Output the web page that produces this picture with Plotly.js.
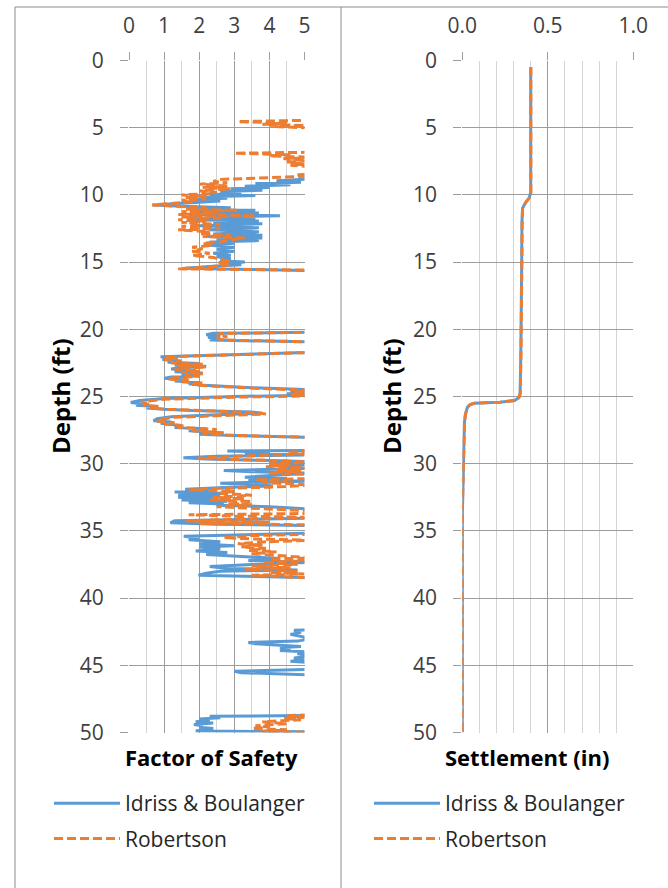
<!DOCTYPE html>
<html>
<head>
<meta charset="utf-8">
<script src="https://cdn.plot.ly/plotly-3.0.1.min.js"></script>
<style>html,body{margin:0;padding:0;background:#fff;}#chart{width:668px;height:888px;}</style>
</head>
<body>
<div id="chart"></div>
<script>
// ---- data (depth in ft, value) ----
const seriesNames = ["Idriss & Boulanger", "Robertson"];
const fosTickLabels = [0, 1, 2, 3, 4, 5];
const settleTickLabels = ["0.0", "0.5", "1.0"];
const depthTicks = [0, 5, 10, 15, 20, 25, 30, 35, 40, 45, 50];

// Factor of safety, Idriss & Boulanger  [depth, FoS]  (values > 5 are off the chart)
const ibFos = [
 [0.5,6],[8.7,6],[8.8,5.2],[8.95,4.2],[9.05,4.9],[9.15,3.6],[9.25,4.6],[9.35,3.3],[9.45,4.0],[9.55,2.9],
 [9.65,3.8],[9.75,2.6],[9.85,3.2],[9.95,2.3],[10.05,3.6],[10.15,2.0],[10.25,2.8],[10.35,1.7],[10.45,2.6],[10.55,2.0],
 [10.65,1.3],[10.75,0.68],[10.85,1.5],[10.95,2.9],[11.05,1.8],[11.15,3.6],[11.25,2.0],[11.35,3.7],[11.45,1.7],[11.55,4.3],
 [11.65,2.2],[11.75,3.6],[11.85,1.8],[11.95,3.7],[12.05,2.4],[12.15,3.8],[12.3,2.0],[12.45,3.7],[12.6,2.3],[12.75,3.7],
 [12.9,2.4],[13.0,3.8],[13.1,2.2],[13.2,3.8],[13.3,2.5],[13.4,3.7],[13.5,2.3],[13.6,3.0],[13.75,2.3],[13.9,3.0],
 [14.05,2.5],[14.2,3.0],[14.35,2.4],[14.5,2.9],[14.6,2.5],[14.75,2.9],[14.9,2.6],[15.0,3.3],[15.1,2.7],[15.2,3.2],
 [15.3,2.4],[15.45,1.6],[15.55,3.5],[15.65,5.5],[16.0,6],
 [20.2,6],[20.3,2.4],[20.4,2.2],[20.5,2.6],[20.6,2.25],[20.7,2.5],[20.8,2.3],[20.95,5.5],[21.0,6],[21.7,6],
 [21.75,4.8],[22.05,0.9],[22.15,1.3],[22.25,0.95],[22.35,1.4],[22.45,1.1],[22.55,2.0],[22.65,1.3],[22.75,2.2],[22.85,1.5],
 [22.95,1.2],[23.05,1.9],[23.15,1.3],[23.25,2.1],[23.35,1.5],[23.45,2.0],[23.55,1.2],[23.65,1.0],[23.75,1.6],[23.85,1.3],
 [23.95,2.0],[24.05,1.7],[24.15,2.0],[24.35,3.5],[24.5,5.2],[24.6,4.6],[24.7,5.1],[24.8,4.5],[24.9,5.2],[25.0,3.0],
 [25.15,1.0],[25.3,0.3],[25.45,0.05],[25.55,0.4],[25.65,0.2],[25.75,0.8],[25.85,0.5],[25.95,1.0],[26.05,1.8],[26.15,3.5],
 [26.25,3.8],[26.35,2.5],[26.5,1.2],[26.65,0.8],[26.8,0.7],[26.9,1.2],[27.0,0.9],[27.15,1.5],[27.3,1.3],[27.4,2.2],
 [27.55,1.7],[27.7,2.6],[27.8,2.0],[27.9,3.0],[28.0,5.5],[28.1,6],
 [29.0,6],[29.05,2.8],[29.15,4.0],[29.25,3.3],[29.35,5.0],[29.45,2.5],[29.55,1.55],[29.65,2.2],[29.75,3.8],[29.85,5.2],
 [29.95,4.0],[30.05,5.2],[30.2,4.4],[30.35,5.1],[30.5,2.7],[30.6,3.5],[30.7,5.2],[30.85,4.2],[31.0,3.3],[31.1,4.5],
 [31.2,3.4],[31.3,5.1],[31.45,2.6],[31.55,3.6],[31.65,4.1],[31.75,2.9],[31.9,1.6],[32.0,2.4],[32.1,1.3],[32.2,2.8],
 [32.3,1.4],[32.4,2.6],[32.5,1.4],[32.6,2.4],[32.7,1.5],[32.8,2.8],[32.9,1.7],[33.0,2.7],[33.1,2.5],[33.2,4.0],
 [33.3,5.2],[33.5,6],[34.0,6],[34.1,4.0],[34.25,1.3],[34.4,1.18],[34.5,2.5],[34.6,5.2],[34.8,6],[35.1,6],
 [35.25,3.5],[35.4,1.56],[35.55,2.0],[35.65,1.7],[35.8,2.6],[35.95,2.0],[36.1,3.0],[36.2,2.0],[36.35,2.6],[36.5,1.9],
 [36.6,2.8],[36.75,2.2],[36.9,3.2],[37.05,4.3],[37.2,3.4],[37.35,5.1],[37.5,3.5],[37.65,2.3],[37.8,2.8],[37.9,4.8],
 [38.0,2.6],[38.15,2.2],[38.3,1.98],[38.4,3.5],[38.5,5.5],[38.6,6],
 [42.3,6],[42.4,4.7],[42.55,4.9],[42.7,4.6],[42.85,5.0],[43.0,5.2],[43.2,4.8],[43.3,3.4],[43.4,3.6],[43.5,4.5],
 [43.6,4.9],[43.7,4.3],[43.8,4.6],[43.9,4.3],[44.0,5.0],[44.15,4.8],[44.3,5.2],[44.45,4.7],[44.6,5.0],[44.7,4.6],
 [44.8,5.2],[45.3,5.2],[45.45,3.0],[45.55,3.2],[45.65,5.5],[45.8,6],
 [48.7,6],[48.8,2.3],[48.9,2.6],[49.0,2.0],[49.1,2.3],[49.2,1.9],[49.3,2.4],[49.4,1.85],[49.5,2.1],[49.6,2.0],
 [49.7,2.4],[49.8,2.0],[49.88,1.9],[49.95,5.2],[50.0,6]
];

// Factor of safety, Robertson  [depth, FoS]
const robFos = [
 [0.5,6],[4.4,6],[4.55,3.1],[4.65,4.5],[4.75,3.8],[4.85,5.2],[4.9,4.0],[5.0,5.2],[5.1,6],
 [6.8,6],[6.9,3.0],[7.0,4.6],[7.1,4.0],[7.2,5.2],[7.3,4.4],[7.45,5.1],[7.55,4.5],[7.7,5.0],[7.8,4.6],[7.9,5.2],[8.0,6],
 [8.4,6],[8.5,4.8],[8.6,5.2],[8.75,3.5],[8.85,2.6],[9.0,2.4],[9.1,2.8],[9.2,2.0],[9.35,2.8],[9.45,2.1],
 [9.55,2.9],[9.7,2.0],[9.8,2.5],[9.9,2.3],[10.0,1.5],[10.1,2.2],[10.2,1.6],[10.3,2.2],[10.4,1.5],[10.5,1.8],
 [10.65,1.1],[10.75,0.66],[10.85,1.4],[10.95,2.2],[11.05,1.6],[11.15,3.1],[11.25,1.5],[11.35,2.5],[11.45,1.4],[11.55,3.6],
 [11.65,1.5],[11.75,2.7],[11.85,1.4],[11.95,2.2],[12.05,1.5],[12.2,2.6],[12.35,1.5],[12.5,2.6],[12.6,1.4],[12.75,2.3],
 [12.9,2.0],[13.0,2.9],[13.1,2.1],[13.2,3.3],[13.35,2.9],[13.5,2.6],[13.6,2.1],[13.75,2.4],[13.9,1.8],[14.0,2.1],
 [14.2,1.8],[14.35,2.3],[14.5,1.8],[14.65,2.4],[14.8,2.6],[14.95,2.9],[15.05,2.5],[15.2,2.9],[15.35,2.3],[15.5,1.4],
 [15.6,5.3],[15.7,6],
 [20.2,6],[20.3,2.7],[20.4,2.5],[20.55,2.8],[20.65,2.5],[20.8,2.7],[20.95,5.5],[21.0,6],[21.7,6],[21.75,4.8],
 [22.05,1.0],[22.15,1.4],[22.25,1.0],[22.35,1.5],[22.5,1.2],[22.6,2.1],[22.7,1.4],[22.8,2.2],[22.9,1.6],[23.0,1.3],
 [23.1,2.0],[23.2,1.5],[23.3,2.1],[23.4,1.6],[23.5,2.0],[23.6,1.3],[23.7,1.1],[23.8,1.7],[23.9,1.5],[24.0,2.1],
 [24.1,1.8],[24.2,2.2],[24.4,3.7],[24.55,5.2],[24.65,4.7],[24.75,5.1],[24.85,4.6],[24.95,5.2],[25.05,3.0],[25.2,1.0],
 [25.35,0.5],[25.45,0.35],[25.55,0.6],[25.65,0.4],[25.75,0.9],[25.85,0.6],[25.95,1.1],[26.05,2.0],[26.2,3.6],[26.3,3.9],
 [26.4,2.6],[26.55,1.3],[26.7,0.9],[26.85,0.8],[26.95,1.3],[27.05,1.0],[27.2,1.6],[27.3,1.4],[27.45,2.5],[27.55,1.8],
 [27.7,2.7],[27.8,2.1],[27.9,3.1],[28.0,5.5],[28.1,6],
 [29.0,6],[29.15,4.5],[29.25,5.2],[29.35,4.0],[29.45,3.0],[29.6,1.95],[29.7,3.5],[29.8,4.5],[29.9,5.2],[30.0,4.0],
 [30.1,4.6],[30.2,3.9],[30.3,5.1],[30.45,4.2],[30.55,4.9],[30.7,4.0],[30.8,5.2],[31.0,6],[31.1,5.2],[31.2,3.6],
 [31.3,4.5],[31.4,3.8],[31.5,4.6],[31.6,5.2],[31.75,4.0],[31.85,2.2],[31.95,1.7],[32.05,3.0],[32.2,2.6],[32.35,3.5],
 [32.5,2.4],[32.6,3.3],[32.7,2.3],[32.8,3.5],[32.95,2.8],[33.05,3.5],[33.2,2.5],[33.3,3.5],[33.45,5.2],[33.6,6],
 [33.7,5.3],[33.8,1.7],[33.9,3.0],[34.0,5.2],[34.1,3.5],[34.25,1.6],[34.35,4.0],[34.45,2.0],[34.55,5.2],[34.7,6],
 [35.2,6],[35.35,3.5],[35.5,2.7],[35.6,3.5],[35.7,5.2],[35.8,4.0],[35.95,3.1],[36.05,3.8],[36.2,3.2],[36.3,3.9],
 [36.45,3.4],[36.55,4.2],[36.7,3.5],[36.85,4.2],[37.0,5.2],[37.1,4.0],[37.2,5.2],[37.35,3.8],[37.5,4.8],[37.6,3.5],
 [37.75,4.6],[37.85,3.3],[38.0,4.8],[38.1,4.0],[38.2,5.0],[38.3,3.5],[38.4,4.6],[38.5,5.5],[38.6,6],
 [48.6,6],[48.75,4.5],[48.85,5.2],[48.95,4.4],[49.05,4.9],[49.2,3.8],[49.35,4.5],[49.5,3.6],[49.6,4.0],[49.7,3.5],
 [49.8,4.5],[49.9,3.8],[50.0,5.2]
];

// Cumulative settlement (in)  [depth, settlement]
const ibSettle = [
 [0.5,0.400],[9.8,0.400],[10.2,0.392],[10.6,0.368],[11.0,0.352],[12.0,0.349],[15.5,0.347],[20.3,0.345],[22.0,0.342],[24.8,0.338],
 [25.1,0.330],[25.3,0.305],[25.42,0.220],[25.5,0.070],[25.6,0.045],[25.8,0.030],[26.3,0.018],[27.0,0.012],[29.0,0.008],[31.0,0.005],
 [32.5,0.002],[34.0,0],[50.0,0]
];
const robSettle = [
 [0.5,0.401],[9.8,0.401],[10.2,0.393],[10.6,0.369],[11.0,0.353],[12.0,0.350],[15.5,0.348],[20.3,0.346],[22.0,0.343],[24.8,0.339],
 [25.1,0.331],[25.3,0.306],[25.42,0.222],[25.5,0.072],[25.6,0.046],[25.8,0.031],[26.3,0.019],[27.0,0.013],[29.0,0.008],[31.0,0.005],
 [32.5,0.002],[34.0,0],[50.0,0]
];

// ---- styles ----
const W = 668, H = 888;
const FONT = "'Open Sans', Lato, 'DejaVu Sans', sans-serif";
const BLUE = "#5B9BD5", ORANGE = "#ED7D31";
const px = v => v / W;          // horizontal pixel -> paper
const py = v => 1 - v / H;      // vertical pixel -> paper

const dep = a => a.map(p => p[0]);
const val = a => a.map(p => p[1]);

const blueLine = {color: BLUE, width: 3};
const orangeLine = {color: ORANGE, width: 3, dash: "9px,4px"};

const traces = [
  {x: val(ibFos), y: dep(ibFos), xaxis: "x", yaxis: "y", type: "scatter", mode: "lines",
   name: seriesNames[0], line: blueLine, legend: "legend", legendgroup: "a"},
  {x: val(robFos), y: dep(robFos), xaxis: "x", yaxis: "y", type: "scatter", mode: "lines",
   name: seriesNames[1], line: orangeLine, legend: "legend", legendgroup: "b"},
  {x: val(ibSettle), y: dep(ibSettle), xaxis: "x2", yaxis: "y2", type: "scatter", mode: "lines",
   name: seriesNames[0], line: blueLine, legend: "legend2", legendgroup: "c"},
  {x: val(robSettle), y: dep(robSettle), xaxis: "x2", yaxis: "y2", type: "scatter", mode: "lines",
   name: seriesNames[1], line: orangeLine, legend: "legend2", legendgroup: "d"}
];

const tickFont = {family: FONT, size: 21, color: "#404040"};
const MAJOR = "#9c9c9c", MINOR = "#d4d4d4";
const yDomain = [py(732.5), py(60.5)];

function xAxis(domain, range, minorDtick, ticktext, anchor) {
  return {
    domain: domain, range: range, side: "top", anchor: anchor,
    tickmode: "array", tickvals: ticktext.map(Number), ticktext: ticktext.map(String),
    ticks: "outside", ticklen: 8, tickcolor: MAJOR, tickwidth: 1,
    showgrid: true, gridcolor: MAJOR, gridwidth: 1,
    minor: {dtick: minorDtick, tick0: 0, showgrid: true, gridcolor: MINOR, gridwidth: 1, ticks: ""},
    zeroline: false, showline: false, tickfont: tickFont, ticklabelstandoff: 10, fixedrange: true
  };
}
function yAxis(anchor) {
  return {
    domain: yDomain, range: [50, 0], anchor: anchor,
    tickmode: "array", tickvals: depthTicks, ticktext: depthTicks.map(String),
    ticks: "outside", ticklen: 8, tickcolor: MAJOR, tickwidth: 1,
    showgrid: true, gridcolor: MAJOR, gridwidth: 1,
    zeroline: false, showline: false, tickfont: tickFont, ticklabelstandoff: 12, fixedrange: true
  };
}

const legendBase = {
  orientation: "v", xanchor: "left", yanchor: "top",
  font: {family: FONT, size: 21, color: "#262626"},
  itemwidth: 66, tracegroupgap: 5, bgcolor: "rgba(0,0,0,0)", borderwidth: 0,
  traceorder: "grouped", itemclick: false, itemdoubleclick: false
};

const titleFont = {family: FONT, size: 22, color: "#000000", weight: "bold"};
const depthFont = {family: FONT, size: 24, color: "#000000", weight: "bold"};

const layout = {
  width: W, height: H,
  margin: {l: 0, r: 0, t: 0, b: 0, pad: 0},
  paper_bgcolor: "#ffffff", plot_bgcolor: "#ffffff",
  showlegend: true,
  xaxis: xAxis([px(129), px(304.5)], [0, 5], 0.5, fosTickLabels, "y"),
  yaxis: yAxis("x"),
  xaxis2: xAxis([px(462.3), px(633.3)], [0, 1], 0.1, settleTickLabels, "y2"),
  yaxis2: yAxis("x2"),
  legend: Object.assign({}, legendBase, {x: px(49), y: py(783)}),
  legend2: Object.assign({}, legendBase, {x: px(369), y: py(783)}),
  annotations: [
    {text: "<b>Depth (ft)</b>", xref: "paper", yref: "paper", x: px(60), y: py(396), textangle: -90,
     showarrow: false, font: depthFont, xanchor: "center", yanchor: "middle"},
    {text: "<b>Depth (ft)</b>", xref: "paper", yref: "paper", x: px(391), y: py(396), textangle: -90,
     showarrow: false, font: depthFont, xanchor: "center", yanchor: "middle"},
    {text: "<b>Factor of Safety</b>", xref: "paper", yref: "paper", x: px(211), y: py(757),
     showarrow: false, font: titleFont, xanchor: "center", yanchor: "middle"},
    {text: "<b>Settlement (in)</b>", xref: "paper", yref: "paper", x: px(527), y: py(757),
     showarrow: false, font: titleFont, xanchor: "center", yanchor: "middle"}
  ],
  shapes: [
    {type: "line", xref: "paper", yref: "paper", x0: px(15), x1: 1, y0: py(7), y1: py(7), line: {color: "#8c8c8c", width: 1}},
    {type: "line", xref: "paper", yref: "paper", x0: px(15), x1: px(15), y0: py(7), y1: 0, line: {color: "#8c8c8c", width: 1}},
    {type: "line", xref: "paper", yref: "paper", x0: px(341), x1: px(341), y0: py(7), y1: 0, line: {color: "#8c8c8c", width: 1}}
  ]
};

Plotly.newPlot("chart", traces, layout, {staticPlot: true, displayModeBar: false});
</script>
</body>
</html>
